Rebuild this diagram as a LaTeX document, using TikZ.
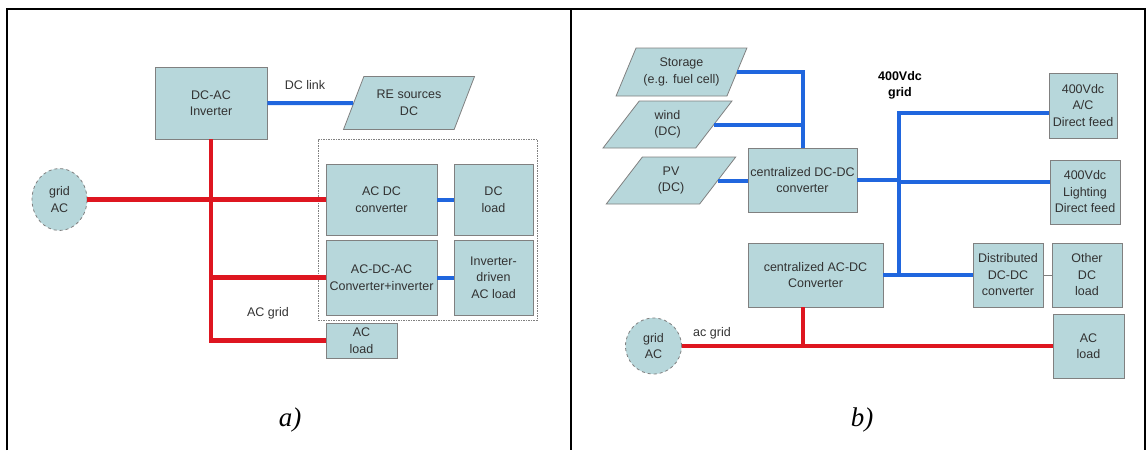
\documentclass[tikz,border=0pt]{standalone}
\usepackage{fontspec}
\setmainfont{Liberation Sans}
\newfontfamily\serifit{Liberation Serif}
\usetikzlibrary{shapes.geometric}
\definecolor{boxfill}{RGB}{183,215,219}
\definecolor{boxline}{RGB}{128,128,128}
\definecolor{redline}{RGB}{222,22,32}
\definecolor{blueline}{RGB}{32,102,222}
\definecolor{txt}{RGB}{50,50,50}
\begin{document}
\begin{tikzpicture}[x=1pt,y=-1pt,
  box/.style={draw=boxline, fill=boxfill, line width=0.8pt, inner sep=1pt, align=center, text=txt, font=\fontsize{12.5}{16.5}\selectfont},
  paraA/.style={box, trapezium, trapezium stretches=true, trapezium left angle=60, trapezium right angle=120, inner sep=0pt},
  paraB/.style={box, trapezium, trapezium stretches=true, trapezium left angle=59, trapezium right angle=121, inner sep=0pt},
  src/.style={draw=boxline, dashed, fill=boxfill, line width=0.8pt, inner sep=0pt, align=center, text=txt, font=\fontsize{12.5}{16.5}\selectfont},
  lbl/.style={inner sep=0pt, align=center, text=txt, font=\fontsize{12.5}{16.5}\selectfont},
  capt/.style={inner sep=0pt, font=\serifit\itshape\fontsize{27}{30}\selectfont},
  redw/.style={draw=redline, line width=4.5pt, line join=miter},
  bluew/.style={draw=blueline, line width=4pt, line join=miter},
  frame/.style={draw=black, line width=2pt}
]
\useasboundingbox (0,0) rectangle (1146,450);
% table frame
\draw[frame] (7,450) -- (7,9) -- (1145,9) -- (1145,450);
\draw[frame] (571,9) -- (571,450);

% ---------------- panel a ----------------
\node[draw=boxline, line width=0.8pt, dash pattern=on 1.5pt off 1pt, minimum width=219, minimum height=181, inner sep=0pt] (grp) at (427.5,229.5) {};
\node[box, minimum width=112, minimum height=72] (inv) at (211,103) {DC-AC\\Inverter};
\node[paraA, minimum width=132, minimum height=53] (re) at (409,103) {RE sources\\DC};
\node[src, ellipse, minimum width=55, minimum height=62] (grida) at (59.5,199.5) {grid\\AC};
\node[box, minimum width=111, minimum height=71] (acdc) at (381.5,199.5) {AC DC\\converter};
\node[box, minimum width=79, minimum height=71] (dcl) at (493.5,199.5) {DC\\load};
\node[box, minimum width=111, minimum height=75] (acdcac) at (381.5,277.5) {AC-DC-AC\\Converter+inverter};
\node[box, minimum width=79, minimum height=75] (idl) at (493.5,277.5) {Inverter-\\driven\\AC load};
\node[box, minimum width=71, minimum height=35] (acla) at (361.5,340.5) {AC\\load};
\node[lbl] (dclink) at (305,85) {DC link};
\node[lbl] (acgrid) at (268,313) {AC grid};
\node[capt] (capa) at (290,420) {a)};

\draw[bluew] (inv.east) -- (re.west);
\draw[bluew] (acdc.east) -- (dcl.west);
\draw[bluew] (acdcac.east) -- (idl.west);
\draw[redw] (grida.east) -- (acdc.west);
\draw[redw] (inv.south) -- (inv.south |- acla.west) -- (acla.west);
\draw[redw] (inv.south |- acdcac.west) -- (acdcac.west);

% ---------------- panel b ----------------
\node[paraB, minimum width=131, minimum height=48] (sto) at (681.5,72) {Storage\\(e.g. fuel cell)};
\node[paraB, minimum width=129, minimum height=47] (wind) at (667.5,124.5) {wind\\(DC)};
\node[paraB, minimum width=130, minimum height=47] (pv) at (671,180.5) {PV\\(DC)};
\node[box, minimum width=109, minimum height=64] (dcdc) at (802.5,180) {centralized DC-DC\\converter};
\node[box, minimum width=68, minimum height=65] (acf) at (1083,105.5) {400Vdc\\A/C\\Direct feed};
\node[box, minimum width=70, minimum height=64] (lit) at (1085,192) {400Vdc\\Lighting\\Direct feed};
\node[box, minimum width=135, minimum height=64] (acdcb) at (815.5,275) {centralized AC-DC\\Converter};
\node[box, minimum width=70, minimum height=64] (dist) at (1008,275) {Distributed\\DC-DC\\converter};
\node[box, minimum width=70, minimum height=64] (odl) at (1087,275) {Other\\DC\\load};
\node[box, minimum width=71, minimum height=64] (aclb) at (1088.5,346) {AC\\load};
\node[src, circle, minimum size=56] (gridb) at (653.5,346) {grid\\AC};
\node[lbl, font=\bfseries\fontsize{12.5}{16.5}\selectfont, text=black] (vdc) at (900,85.5) {400Vdc\\grid};
\node[lbl] (acg) at (712,333) {ac grid};
\node[capt] (capb) at (862,420) {b)};

\coordinate (bt) at (899,113);
\coordinate (lj) at (899,182);
\coordinate (rj) at (803,346);
\draw[bluew] (sto.east) -| (dcdc.north);
\draw[bluew] (wind.east) -- (wind.east -| dcdc.north);
\draw[bluew] (pv.east) -- (pv.east -| dcdc.west);
\draw[bluew] (bt |- acdcb.east) -- (bt) -- (bt -| acf.west);
\draw[bluew] (dcdc.east) -- (dcdc.east -| bt);
\draw[bluew] (lj) -- (lj -| lit.west);
\draw[bluew] (acdcb.east) -- (dist.west);
\draw[draw=boxline, line width=0.7pt] (dist.east) -- (odl.west);
\draw[redw] (gridb.east) -- (aclb.west);
\draw[redw] (rj |- acdcb.south) -- (rj);
\end{tikzpicture}
\end{document}
